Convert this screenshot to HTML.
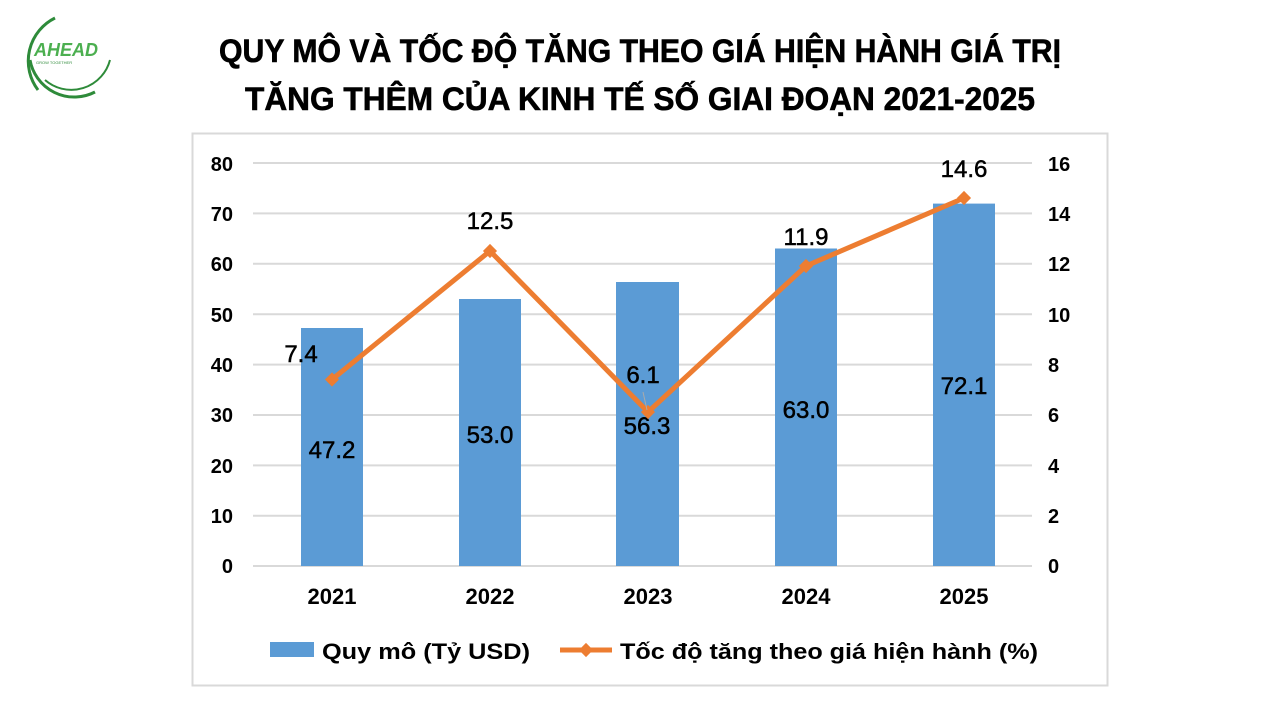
<!DOCTYPE html>
<html><head><meta charset="utf-8"><style>
html,body{margin:0;padding:0;background:#fff;width:1280px;height:720px;overflow:hidden}
svg{display:block}
text{font-family:"Liberation Sans",sans-serif}
.dl{font-size:24px;fill:#000;stroke:#000;stroke-width:0.5px}
</style></head><body>
<svg width="1280" height="720" viewBox="0 0 1280 720">
<!-- logo -->
<g fill="none" stroke="#2e8b3a">
<path d="M55 18 A48 48 0 0 0 38 90" stroke-width="3"/>
<path d="M30 60 A45 45 0 0 0 95 92" stroke-width="3"/>
<path d="M45 80 A40 40 0 0 0 110 60" stroke-width="2"/>
</g>
<text x="34" y="56" font-size="18" font-weight="bold" fill="#4caf50" font-style="italic">AHEAD</text>
<text x="36" y="64" font-size="4" fill="#2e8b3a">GROW TOGETHER</text>
<!-- title -->
<text x="640" y="62" text-anchor="middle" font-size="32" font-weight="bold" fill="#000" textLength="842" lengthAdjust="spacingAndGlyphs" stroke="#000" stroke-width="0.6">QUY MÔ VÀ TỐC ĐỘ TĂNG THEO GIÁ HIỆN HÀNH GIÁ TRỊ</text>
<text x="640" y="110" text-anchor="middle" font-size="32" font-weight="bold" fill="#000" textLength="790" lengthAdjust="spacingAndGlyphs" stroke="#000" stroke-width="0.6">TĂNG THÊM CỦA KINH TẾ SỐ GIAI ĐOẠN 2021-2025</text>
<!-- chart box -->
<rect x="192.5" y="133.5" width="915" height="552" fill="#fff" stroke="#d9d9d9" stroke-width="2"/>
<g stroke="#d9d9d9" stroke-width="2">
<line x1="253" x2="1032" y1="163" y2="163"/><line x1="253" x2="1032" y1="213.4" y2="213.4"/>
<line x1="253" x2="1032" y1="263.8" y2="263.8"/><line x1="253" x2="1032" y1="314.2" y2="314.2"/>
<line x1="253" x2="1032" y1="364.6" y2="364.6"/><line x1="253" x2="1032" y1="415" y2="415"/>
<line x1="253" x2="1032" y1="465.4" y2="465.4"/><line x1="253" x2="1032" y1="515.8" y2="515.8"/>
<line x1="253" x2="1032" y1="566" y2="566"/>
</g>
<g font-size="20" font-weight="bold" fill="#000" text-anchor="end">
<text x="233" y="171">80</text><text x="233" y="221">70</text><text x="233" y="271">60</text>
<text x="233" y="322">50</text><text x="233" y="372">40</text><text x="233" y="422">30</text>
<text x="233" y="473">20</text><text x="233" y="523">10</text><text x="233" y="573">0</text>
</g>
<g font-size="20" font-weight="bold" fill="#000" text-anchor="start">
<text x="1048" y="171">16</text><text x="1048" y="221">14</text><text x="1048" y="271">12</text>
<text x="1048" y="322">10</text><text x="1048" y="372">8</text><text x="1048" y="422">6</text>
<text x="1048" y="473">4</text><text x="1048" y="523">2</text><text x="1048" y="573">0</text>
</g>
<!-- bars -->
<g fill="#5b9bd5">
<rect x="301" y="328" width="62" height="238"/>
<rect x="459" y="299" width="62" height="267"/>
<rect x="616" y="282" width="63" height="284"/>
<rect x="775" y="248.5" width="62" height="317.5"/>
<rect x="933" y="203.6" width="62" height="362.4"/>
</g>
<g class="dl" text-anchor="middle">
<text x="332" y="458">47.2</text><text x="490" y="443">53.0</text><text x="647" y="434">56.3</text>
<text x="806" y="418">63.0</text><text x="964" y="394">72.1</text>
</g>
<!-- line -->
<polyline points="332,379.5 490,251 648,412 806,266 964,198" fill="none" stroke="#ed7d31" stroke-width="5" stroke-linejoin="round"/>
<g fill="#ed7d31">
<rect x="327" y="374.5" width="10" height="10" transform="rotate(45 332 379.5)"/>
<rect x="485" y="246" width="10" height="10" transform="rotate(45 490 251)"/>
<rect x="643" y="407" width="10" height="10" transform="rotate(45 648 412)"/>
<rect x="801" y="261" width="10" height="10" transform="rotate(45 806 266)"/>
<rect x="959" y="193" width="10" height="10" transform="rotate(45 964 198)"/>
</g>
<line x1="643" y1="392" x2="647" y2="410" stroke="#aaa" stroke-width="1"/>
<g class="dl" text-anchor="middle">
<text x="301" y="362">7.4</text><text x="490" y="229">12.5</text><text x="643" y="383">6.1</text>
<text x="806" y="245">11.9</text><text x="964" y="177">14.6</text>
</g>
<g font-size="22" font-weight="bold" fill="#000" text-anchor="middle">
<text x="332" y="604">2021</text><text x="490" y="604">2022</text><text x="648" y="604">2023</text>
<text x="806" y="604">2024</text><text x="964" y="604">2025</text>
</g>
<!-- legend -->
<rect x="270" y="642" width="44" height="15" fill="#5b9bd5"/>
<text x="322" y="659" font-size="22" font-weight="bold" fill="#000" textLength="208" lengthAdjust="spacingAndGlyphs">Quy mô (Tỷ USD)</text>
<line x1="560" y1="650" x2="612" y2="650" stroke="#ed7d31" stroke-width="5"/>
<rect x="581" y="645" width="10" height="10" fill="#ed7d31" transform="rotate(45 586 650)"/>
<text x="620" y="659" font-size="22" font-weight="bold" fill="#000" textLength="418" lengthAdjust="spacingAndGlyphs">Tốc độ tăng theo giá hiện hành (%)</text>
</svg>
</body></html>
